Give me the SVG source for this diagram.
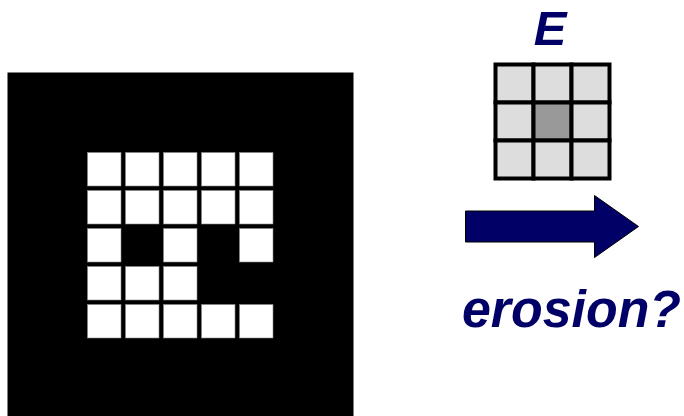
<svg xmlns="http://www.w3.org/2000/svg" width="684" height="416" viewBox="0 0 684 416">
<style>
.lbl{font-family:"Liberation Sans",Arial,sans-serif;font-weight:bold;font-style:italic;fill:#000066}
.w{fill:#ffffff;stroke:#888888;stroke-width:0.6}
.se{fill:#dddddd;stroke:#000000;stroke-width:4}
</style>
<rect width="684" height="416" fill="#ffffff"/>
<g id="image">
<rect x="7.5" y="72.5" width="346" height="344" fill="#000000"/>
<g id="pixels">
<rect class="w" x="87.5" y="152.5" width="33.5" height="33.5"/>
<rect class="w" x="125.5" y="152.5" width="33.5" height="33.5"/>
<rect class="w" x="163.5" y="152.5" width="33.5" height="33.5"/>
<rect class="w" x="201.5" y="152.5" width="33.5" height="33.5"/>
<rect class="w" x="239.5" y="152.5" width="33.5" height="33.5"/>
<rect class="w" x="87.5" y="190.5" width="33.5" height="33.5"/>
<rect class="w" x="125.5" y="190.5" width="33.5" height="33.5"/>
<rect class="w" x="163.5" y="190.5" width="33.5" height="33.5"/>
<rect class="w" x="201.5" y="190.5" width="33.5" height="33.5"/>
<rect class="w" x="239.5" y="190.5" width="33.5" height="33.5"/>
<rect class="w" x="87.5" y="228.5" width="33.5" height="33.5"/>
<rect class="w" x="163.5" y="228.5" width="33.5" height="33.5"/>
<rect class="w" x="239.5" y="228.5" width="33.5" height="33.5"/>
<rect class="w" x="87.5" y="266.5" width="33.5" height="33.5"/>
<rect class="w" x="125.5" y="266.5" width="33.5" height="33.5"/>
<rect class="w" x="163.5" y="266.5" width="33.5" height="33.5"/>
<rect class="w" x="87.5" y="304.5" width="33.5" height="33.5"/>
<rect class="w" x="125.5" y="304.5" width="33.5" height="33.5"/>
<rect class="w" x="163.5" y="304.5" width="33.5" height="33.5"/>
<rect class="w" x="201.5" y="304.5" width="33.5" height="33.5"/>
<rect class="w" x="239.5" y="304.5" width="33.5" height="33.5"/>
</g>
</g>
<g id="structuring-element">
<text class="lbl" x="550" y="45" font-size="49" text-anchor="middle">E</text>
<rect class="se" x="495.5" y="64.5" width="38" height="38"/>
<rect class="se" x="533.5" y="64.5" width="38" height="38"/>
<rect class="se" x="571.5" y="64.5" width="38" height="38"/>
<rect class="se" x="495.5" y="102.5" width="38" height="38"/>
<rect class="se" x="533.5" y="102.5" width="38" height="38" fill="#999999" style="fill:#999999"/>
<rect class="se" x="571.5" y="102.5" width="38" height="38"/>
<rect class="se" x="495.5" y="140.5" width="38" height="38"/>
<rect class="se" x="533.5" y="140.5" width="38" height="38"/>
<rect class="se" x="571.5" y="140.5" width="38" height="38"/>
</g>
<g id="connectors">
<path d="M465.5,211 H594.5 V195.5 L638.5,226.5 L594.5,257.5 V242 H465.5 Z" fill="#000066" stroke="#000000" stroke-width="1"/>
</g>
<g id="label">
<text class="lbl" x="462" y="326.5" font-size="51" textLength="219" lengthAdjust="spacingAndGlyphs">erosion?</text>
</g>
</svg>
